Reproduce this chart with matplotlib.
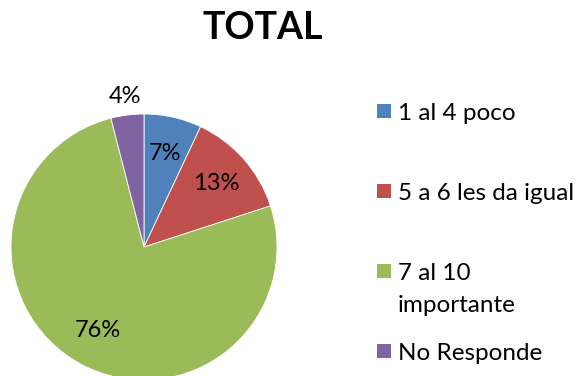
import numpy as np
import matplotlib
matplotlib.use('Agg')
import matplotlib.pyplot as plt
from matplotlib.patches import Rectangle

plt.rcParams['font.family'] = ['Lato', 'DejaVu Sans']

title = 'TOTAL'
categories = ['1 al 4 poco', '5 a 6 les da igual', '7 al 10\nimportante', 'No Responde']
values = [7, 13, 76, 4]
colors = ['#4F81BD', '#C0504D', '#9BBB59', '#8064A2']

W, H = 577, 376
fig = plt.figure(figsize=(W / 100, H / 100), dpi=100)
# pie centre ~ (144, 247) px, radius ~133 px
ax = fig.add_axes([11 / W, -4 / H, 266 / W, 266 / H])

wedges, texts, autotexts = ax.pie(
    values, colors=colors, startangle=90, counterclock=False,
    autopct=lambda p: f'{p:.0f}%', pctdistance=0.72,
    wedgeprops=dict(edgecolor='white', linewidth=0.6),
    textprops=dict(fontsize=17, color='black'))
ax.set_aspect('equal')
ax.set_xlim(-1, 1)
ax.set_ylim(-1, 1)

# small slice label sits outside the pie
w = wedges[-1]
ang = np.deg2rad((w.theta1 + w.theta2) / 2)
autotexts[-1].set_position((1.14 * np.cos(ang), 1.14 * np.sin(ang)))

fig.text(263 / W, 1 - 28 / H, title, ha='center', va='center',
         fontsize=27, fontweight='bold')

# legend, Excel style: square aligned with the first line of each label
row_y = [111, 191, 271, 351]
sq = 14
for lab, col, y in zip(categories, colors, row_y):
    fig.patches.append(Rectangle((377 / W, 1 - (y + sq / 2) / H), sq / W, sq / H,
                                 transform=fig.transFigure, facecolor=col,
                                 edgecolor='none'))
    for j, line in enumerate(lab.split('\n')):
        fig.text(398 / W, 1 - (y + 8.5 + 33 * j) / H, line, ha='left',
                 va='baseline', fontsize=17.5)

fig.savefig('out.png', dpi=100)
